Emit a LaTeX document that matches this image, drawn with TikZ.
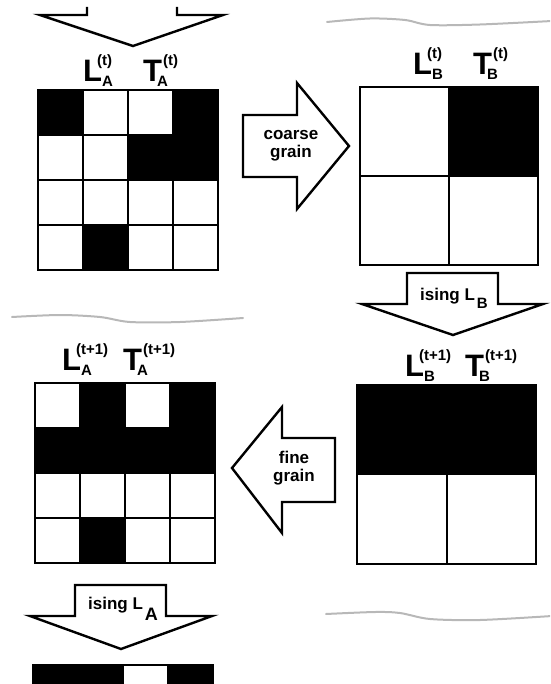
\documentclass[tikz,border=0pt]{standalone}
\usepackage{fontspec}
\setmainfont{Liberation Sans}
\usetikzlibrary{positioning}

% big spin letter with sub- and superscript: #1 letter, #2 sub, #3 sup, #4 sup kern, #5 sub kern
\newcommand{\spinlbl}[5]{%
  {\fontsize{31}{31}\selectfont #1}%
  \rlap{\kern#4pt\raisebox{16pt}{\fontsize{15}{15}\selectfont #3}}%
  \kern#5pt\raisebox{-5pt}{\fontsize{15}{15}\selectfont #2}}

\begin{document}
\begin{tikzpicture}[
    x=1pt, y=-1pt,
    line join=miter,
    blockarrow/.style={draw, fill=white, line width=2.4pt},
    gridline/.style={line width=2pt},
    frame/.style={line width=2.6pt},
    seam/.style={draw=black!28, line width=2pt, line cap=round},
    lbl/.style={inner sep=0pt, anchor=base west, font=\bfseries},
    arrowtext/.style={align=center, inner sep=0pt,
        font={\bfseries\fontsize{17}{18}\selectfont}}
]
\useasboundingbox (0,0) rectangle (550,684);
\clip (0,0) rectangle (550,684);

% --- torn edges ---
\draw[seam] plot[smooth] coordinates {(327,22) (370,18.5) (405,20) (430,25) (480,24.5) (552,21)};
\draw[seam] plot[smooth] coordinates {(12,317) (60,315) (100,317) (130,322) (180,322) (243,318)};
\draw[seam] plot[smooth] coordinates {(326,614) (375,612) (400,613) (430,619) (480,620) (552,616)};

% --- lattice A, step t ---
\begin{scope}[shift={(38,90)}]
  \fill[white] (0,0) rectangle (180,180);
  \foreach \c/\r in {0/0,3/0,2/1,3/1,1/3}
    \fill (\c*45,\r*45) rectangle ++(45,45);
  \foreach \k in {1,2,3}
    \draw[gridline] (\k*45,0) -- (\k*45,180) (0,\k*45) -- (180,\k*45);
  \draw[frame] (0,0) rectangle (180,180);
\end{scope}

% --- lattice B, step t ---
\begin{scope}[shift={(360,87)}]
  \fill (89,0) rectangle (178,89);
  \draw[gridline] (89,0) -- (89,178) (0,89) -- (178,89);
  \draw[frame] (0,0) rectangle (178,178);
\end{scope}

% --- lattice B, step t+1 ---
\begin{scope}[shift={(357,385)}]
  \fill (0,0) rectangle (179,89);
  \draw[gridline] (89.5,89) -- (89.5,179) (0,89) -- (179,89);
  \draw[frame] (0,0) rectangle (179,179);
\end{scope}

% --- lattice A, step t+1 ---
\begin{scope}[shift={(35,383)}]
  \foreach \c/\r in {1/0,3/0,0/1,1/1,2/1,3/1,1/3}
    \fill (\c*45,\r*45) rectangle ++(45,45);
  \foreach \k in {1,2,3}
    \draw[gridline] (\k*45,0) -- (\k*45,180) (0,\k*45) -- (180,\k*45);
  \draw[frame] (0,0) rectangle (180,180);
\end{scope}

% --- lattice A, step t+2 (cut off) ---
\begin{scope}[shift={(33,665)}]
  \foreach \c/\r in {0/0,1/0,3/0}
    \fill (\c*45,\r*45) rectangle ++(45,45);
  \foreach \k in {1,2,3}
    \draw[gridline] (\k*45,0) -- (\k*45,180) (0,\k*45) -- (180,\k*45);
  \draw[frame] (0,0) rectangle (180,180);
\end{scope}

% --- block arrows ---
\draw[blockarrow] (87,7) -- (87,15) -- (40,15) -- (133,46) -- (223,15) -- (177,15) -- (177,7);
\draw[blockarrow] (243,115) -- (297,115) -- (297,83) -- (349,146) -- (297,209) -- (297,177) -- (243,177) -- cycle;
\draw[blockarrow] (407,273) -- (498,273) -- (498,304) -- (543,304) -- (453,335) -- (362,304) -- (407,304) -- cycle;
\draw[blockarrow] (335,438) -- (282,438) -- (282,407) -- (232,468) -- (282,533) -- (282,502) -- (335,502) -- cycle;
\draw[blockarrow] (75,585) -- (166,585) -- (166,616) -- (212,616) -- (121,649) -- (30,616) -- (75,616) -- cycle;

% --- arrow texts ---
\node[arrowtext] (coarse) at (291,146) {coarse\\grain};
\node[arrowtext] (fine) at (294,468) {fine\\grain};
\node[lbl] (isingB) at (420,300) {\fontsize{17}{17}\selectfont ising L\kern2pt\raisebox{-8pt}{\fontsize{15}{15}\selectfont B}};
\node[lbl] (isingA) at (88,609) {\fontsize{17}{17}\selectfont ising L\kern2pt\raisebox{-11pt}{\fontsize{18}{18}\selectfont A}};

% --- spin labels ---
\node[lbl] (LAt) at (83,82) {\spinlbl{L}{A}{(t)}{-5}{0}};
\node[lbl] (TAt) at (143,82) {\spinlbl{T}{A}{(t)}{1}{-5}};
\node[lbl] (LBt) at (413,75) {\spinlbl{L}{B}{(t)}{-5}{0}};
\node[lbl] (TBt) at (473,75) {\spinlbl{T}{B}{(t)}{1}{-5}};
\node[lbl] (LAn) at (62,370) {\spinlbl{L}{A}{(t+1)}{-5}{0}};
\node[lbl] (TAn) at (123,370) {\spinlbl{T}{A}{(t+1)}{1}{-5}};
\node[lbl] (LBn) at (405,376) {\spinlbl{L}{B}{(t+1)}{-5}{0}};
\node[lbl] (TBn) at (465,376) {\spinlbl{T}{B}{(t+1)}{1}{-5}};

\end{tikzpicture}
\end{document}
